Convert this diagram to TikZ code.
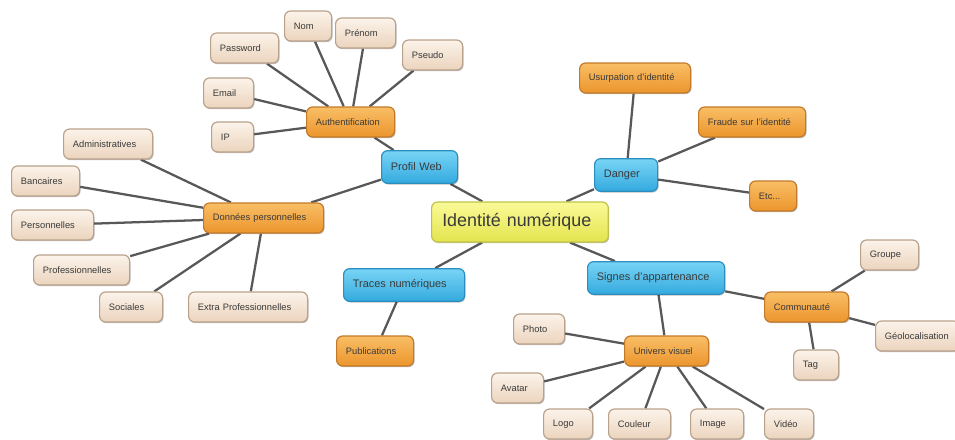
\documentclass[tikz,border=0pt]{standalone}
\usepackage{fontspec}
\setmainfont{Liberation Sans}
\usetikzlibrary{shadows,backgrounds}
\definecolor{txtgray}{HTML}{3A3A3A}
\definecolor{linkgray}{HTML}{585858}
\definecolor{beigetop}{HTML}{FCF3EA}
\definecolor{beigebot}{HTML}{EBD4BD}
\definecolor{beigeline}{HTML}{B9A28C}
\definecolor{orangetop}{HTML}{F9BE66}
\definecolor{orangebot}{HTML}{EC952C}
\definecolor{orangeline}{HTML}{C27A2A}
\definecolor{bluetop}{HTML}{78D4F5}
\definecolor{bluebot}{HTML}{34AADF}
\definecolor{blueline}{HTML}{2A8FC0}
\definecolor{yellowtop}{HTML}{FAFA98}
\definecolor{yellowbot}{HTML}{E4E44E}
\definecolor{yellowline}{HTML}{C2C24A}
\tikzset{
  boxw/.code={\pgfmathsetlengthmacro\boxwd{#1*0.75pt-14pt}\tikzset{text width/.expanded=\boxwd}},
}
\begin{document}
\begin{tikzpicture}[x=0.75pt,y=-0.75pt,line join=round,line cap=round,
    box/.style={draw,rounded corners=4.5pt,inner xsep=7pt,inner ysep=0pt,align=left,anchor=west,
      text=txtgray,line width=0.9pt,
      drop shadow={shadow xshift=0.7pt,shadow yshift=-0.9pt,opacity=0.25,fill=black}},
    leaf/.style={box,top color=beigetop,bottom color=beigebot,draw=beigeline,
      font=\fontsize{7}{8}\selectfont,minimum height=22.5pt},
    sub/.style={box,top color=orangetop,bottom color=orangebot,draw=orangeline,
      font=\fontsize{7}{8}\selectfont,minimum height=22.5pt},
    branch/.style={box,top color=bluetop,bottom color=bluebot,draw=blueline,
      font=\fontsize{8.2}{9}\selectfont,minimum height=24.5pt},
    root/.style={box,top color=yellowtop,bottom color=yellowbot,draw=yellowline,
      font=\fontsize{13.4}{15}\selectfont,minimum height=30pt,inner xsep=8pt},
    link/.style={draw=linkgray,line width=1.7pt}]
  \useasboundingbox (0,0) rectangle (955,439);
  % centre
  \node[root,boxw=174] (main) at (431,222) {Identité numérique};
  % branches
  \foreach \n/\x/\y/\w/\t in {profil/381/167/76/Profil Web,traces/343/285/121/Traces numériques,
      danger/594/175/63/Danger,signes/587/278/137/Signes d'appartenance}
    \node[branch,boxw=\w] (\n) at (\x,\y) {\t};
  % sous-branches
  \foreach \n/\x/\y/\w/\t in {auth/306/122/88/Authentification,donnees/203/218/120/Données personnelles,
      usurp/579/78/111/Usurpation d'identité,fraude/698/122/107/Fraude sur l'identité,
      publi/336/351/77/Publications,
      commu/764/307/84/Communauté,univers/624/351/84/Univers visuel}
    \node[sub,boxw=\w] (\n) at (\x,\y) {\t};
  \node[sub,boxw=47] (etc) at (749,196) {Etc...};
  % feuilles
  \foreach \n/\x/\y/\w/\t in {password/210/48/68/Password,nom/284/26/47/Nom,prenom/335/33/60/Prénom,
      pseudo/402/55/60/Pseudo,email/203/93/50/Email,ip/211/137/42/IP,
      admin/63/144/89/Administratives,bancaires/11/181/68/Bancaires,perso/11/225/82/Personnelles,
      pro/33/270/96/Professionnelles,sociales/99/307/63/Sociales,extra/188/307/119/Extra Professionnelles,
      groupe/860/255/58/Groupe,geoloc/875/336/84/Géolocalisation,tag/793/365/45/Tag,
      photo/513/329/51/Photo,avatar/491/388/52/Avatar,logo/543/424/49/Logo,
      couleur/608/424/62/Couleur,image/690/424/53/Image,video/764/424/49/Vidéo}
    \node[leaf,boxw=\w] (\n) at (\x,\y) {\t};
  % liens
  \begin{scope}[on background layer]
    \foreach \a/\b in {main/profil,main/danger,main/traces,main/signes,
        profil/auth,profil/donnees,
        auth/password,auth/nom,auth/prenom,auth/pseudo,auth/email,auth/ip,
        donnees/admin,donnees/bancaires,donnees/perso,donnees/pro,donnees/sociales,donnees/extra,
        danger/usurp,danger/fraude,danger/etc,traces/publi,
        signes/commu,signes/univers,commu/groupe,commu/geoloc,commu/tag,
        univers/photo,univers/avatar,univers/logo,univers/couleur,univers/image,univers/video}
      \draw[link] (\a)--(\b);
  \end{scope}
\end{tikzpicture}
\end{document}
